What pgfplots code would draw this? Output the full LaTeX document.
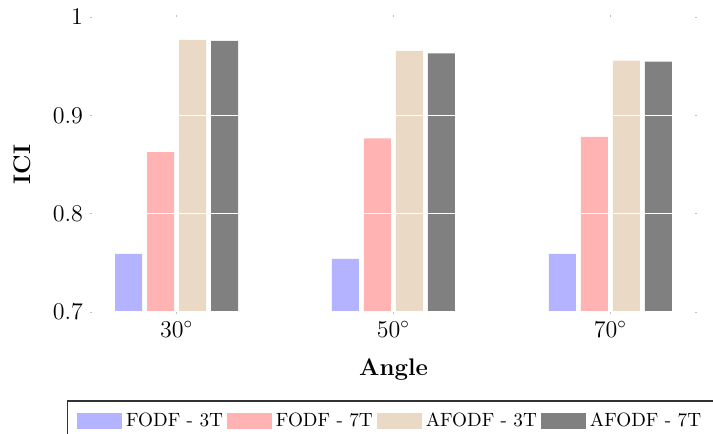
\documentclass[border=0pt]{standalone}
\usepackage{pgfplots}
\pgfplotsset{compat=1.18}
\definecolor{cA}{RGB}{179,179,255}
\definecolor{cB}{RGB}{255,179,179}
\definecolor{cC}{RGB}{234,218,197}
\definecolor{cD}{RGB}{128,128,128}
\begin{document}
\begin{tikzpicture}
\begin{axis}[name=ax, scale only axis, width=303.5pt, height=147.5pt,
  ybar=2.5pt, bar width=13.5pt,
  xmin=22, xmax=78, ymin=0.7, ymax=1,
  xtick={30,50,70}, xticklabels={$30^\circ$,$50^\circ$,$70^\circ$},
  ytick={0.7,0.8,0.9,1},
  tick label style={font=\large},
  label style={font=\large},
  xlabel shift=4pt, ylabel shift=4pt,
  ymajorgrids, grid style={white, line width=0.6pt},
  axis on top,
  axis line style={draw=none},
  tick style={gray!50, line width=0.4pt}, major tick length=1pt,
  xlabel={\textbf{Angle}}, ylabel={\textbf{ICI}},
  legend columns=4,
  legend style={at={(0,0)}, anchor=north west, xshift=-11.7pt, yshift=-44.2pt,
    font=\fontsize{9.6}{11.5}\selectfont,
    draw=black!80, line width=0.6pt, inner xsep=5pt, inner ysep=4pt,
    /tikz/every even column/.append style={column sep=0pt}},
  legend image code/.code={\fill[#1] (0pt,-4pt) rectangle (22.5pt,4pt);},
]
\addplot[fill=cA, draw=none] coordinates {(30,0.759) (50,0.754) (70,0.759)};
\addplot[fill=cB, draw=none] coordinates {(30,0.8625) (50,0.8767) (70,0.878)};
\addplot[fill=cC, draw=none] coordinates {(30,0.9767) (50,0.9655) (70,0.9557)};
\addplot[fill=cD, draw=none] coordinates {(30,0.9757) (50,0.963) (70,0.9546)};
\legend{FODF - 3T, FODF - 7T, AFODF - 3T, AFODF - 7T}
\end{axis}
\pgfresetboundingbox
\path[use as bounding box] ([xshift=-45pt,yshift=156pt]ax.south west) rectangle ([xshift=311.5pt,yshift=-61pt]ax.south west);
\end{tikzpicture}
\end{document}
